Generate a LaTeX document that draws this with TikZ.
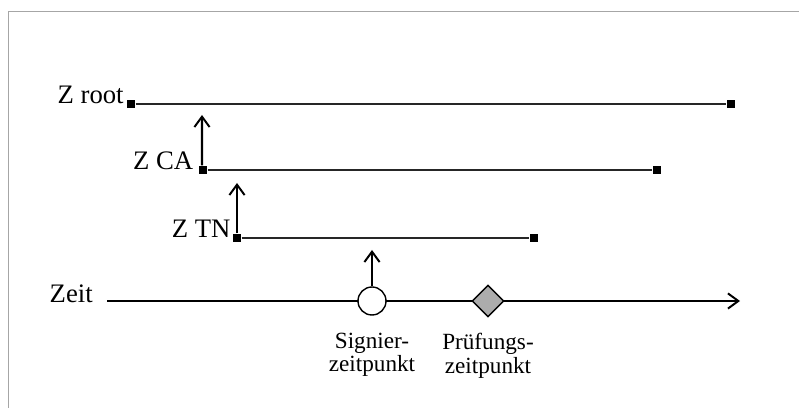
\documentclass[tikz,border=0pt]{standalone}
\usepackage{fontspec}
\setmainfont{Liberation Serif}
\usepackage{tikz}
\usetikzlibrary{arrows.meta}
\usetikzlibrary{shapes.geometric}
\usetikzlibrary{positioning}
\tikzset{>={Straight Barb[length=2.6mm,width=3.8mm,line width=1.4pt]}}
\tikzstyle{endpt} = [rectangle, fill=black, inner sep=0pt, minimum size=2.2mm]
\tikzstyle{lbl} = [inner sep=0pt, font=\fontsize{19}{19}\selectfont]
\tikzstyle{sublbl} = [inner sep=0pt, align=center, font=\fontsize{16.5}{16.8}\selectfont]
\tikzstyle{span} = [-, line width=1pt, draw=black!85]
\tikzstyle{up} = [->, line width=1.6pt]

\begin{document}
\begin{tikzpicture}
\useasboundingbox (0,0) rectangle (19.975,10.2);
\draw [draw=gray!70, line width=0.7pt] (0.2,0) -- (0.2,9.9) -- (19.975,9.9);
% certificate periods
\node [endpt] (R1) at (3.275, 7.6) {};
\node [endpt] (R2) at (18.275, 7.6) {};
\node [endpt] (C1) at (5.075, 5.95) {};
\node [endpt] (C2) at (16.425, 5.95) {};
\node [endpt] (T1) at (5.925, 4.25) {};
\node [endpt] (T2) at (13.35, 4.25) {};
\draw [span] (R1) -- (R2);
\draw [span] (C1) -- (C2);
\draw [span] (T1) -- (T2);
\node [lbl, anchor=base east] (Lroot) at ([xshift=-0.06cm]R1.west) {Z root};
\node [lbl, anchor=base east] (Lca) at ([xshift=-0.12cm]C1.west) {Z CA};
\node [lbl, anchor=base east] (Ltn) at ([xshift=-0.04cm]T1.west) {Z TN};
% time axis
\coordinate (Z0) at (2.675, 2.675);
\coordinate (Z1) at (18.5, 2.675);
\draw [->, line width=1.3pt] (Z0) -- (Z1);
\node [lbl, anchor=base east] (Lzeit) at ([xshift=-0.35cm, yshift=-0.05cm]Z0) {Zeit};
\node [circle, draw, fill=white, line width=1pt, inner sep=0pt, minimum size=0.7cm] (sig) at (9.3, 2.675) {};
\node [diamond, draw, fill=gray!65, line width=1pt, inner sep=0pt, minimum size=0.8cm] (chk) at (12.2, 2.675) {};
\node [sublbl, below=0.42cm of sig] (Lsig) {Signier-\\zeitpunkt};
\node [sublbl, below=0.38cm of chk] (Lchk) {Prüfungs-\\zeitpunkt};
% chain arrows
\coordinate (Aca) at (5.05, 7.325);
\coordinate (Atn) at (5.925, 5.625);
\coordinate (Asig) at (9.3, 3.95);
\draw [up] ([xshift=-0.025cm]C1.north) -- (Aca);
\draw [up] (T1.north) -- (Atn);
\draw [up] (sig.north) -- (Asig);
\end{tikzpicture}
\end{document}
